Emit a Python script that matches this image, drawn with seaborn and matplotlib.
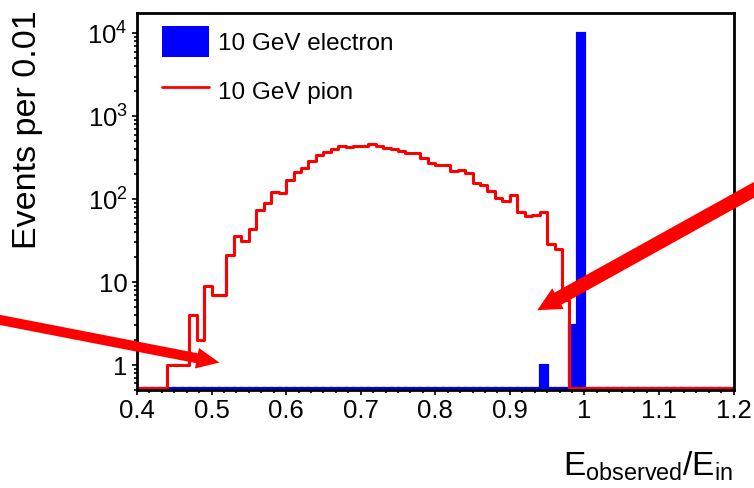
import numpy as np
import pandas as pd
import matplotlib
matplotlib.use("Agg")
import matplotlib.pyplot as plt
import seaborn as sns
from matplotlib.lines import Line2D
from matplotlib.patches import Patch
from matplotlib.ticker import (FixedLocator, FuncFormatter, LogLocator,
                               NullFormatter, AutoMinorLocator)

# ---- histogram data: E_observed / E_in in bins of 0.01 from 0.40 to 1.20 ----
X_RANGE = (0.40, 1.20)
N_BINS = 80

pion_counts = [0, 0, 0, 0, 1, 1, 1, 4, 2, 9,
               7, 7, 21, 36, 31, 44, 74, 90, 122, 118,
               169, 210, 234, 289, 337, 372, 400, 438, 423, 436,
               440, 460, 436, 418, 400, 381, 358, 358, 310, 276,
               256, 256, 219, 224, 209, 155, 147, 126, 102, 95,
               112, 70, 62, 64, 69, 29, 25, 6] + [0] * 22

electron_bins = [0.94, 0.98, 0.99]
electron_counts = [1, 3, 10000]

series_labels = ["10 GeV electron", "10 GeV pion"]
ytick_values = [1, 10, 100, 1000, 10000]
xtick_values = [0.4, 0.5, 0.6, 0.7, 0.8, 0.9, 1.0, 1.1, 1.2]
xtick_labels = ["0.4", "0.5", "0.6", "0.7", "0.8", "0.9", "1", "1.1", "1.2"]

# empty bins are drawn along the bottom of the frame, as in ROOT
Y_MIN, Y_MAX = 0.5, 1.75e4
FLOOR = 0.53

bin_edges = np.linspace(X_RANGE[0], X_RANGE[1], N_BINS + 1)
centers = (bin_edges[:-1] + bin_edges[1:]) / 2
pion = np.asarray(pion_counts, dtype=float)
electron = np.zeros(N_BINS)
for b, c in zip(electron_bins, electron_counts):
    electron[int(round((b - X_RANGE[0]) / 0.01))] = c

df = pd.DataFrame({
    "ratio": centers,
    "electron": np.where(electron > 0, electron, FLOOR),
    "pion": np.where(pion > 0, pion, FLOOR),
})

sns.set_style("white")
plt.rcParams["font.family"] = ["Liberation Sans", "DejaVu Sans"]
plt.rcParams["mathtext.fontset"] = "custom"
plt.rcParams["mathtext.rm"] = "Liberation Sans"
plt.rcParams["mathtext.it"] = "Liberation Sans:italic"
plt.rcParams["text.color"] = "black"
plt.rcParams["axes.labelcolor"] = "black"
plt.rcParams["xtick.color"] = "black"
plt.rcParams["ytick.color"] = "black"

fig = plt.figure(figsize=(7.54, 4.88), dpi=100)
ax = fig.add_axes([137 / 754, 1 - 390 / 488, 596.5 / 754, 377 / 488])
ax.set_yscale("log")

BLUE = "#0000ff"
RED = "#ff0000"

sns.histplot(data=df, x="ratio", weights="electron",
             bins=N_BINS, binrange=X_RANGE, element="bars", fill=True,
             color=BLUE, edgecolor=BLUE, linewidth=2.3, alpha=1.0, ax=ax)
sns.histplot(data=df, x="ratio", weights="pion",
             bins=N_BINS, binrange=X_RANGE, element="step", fill=False,
             color=RED, linewidth=2.2, ax=ax)

ax.set_xlim(*X_RANGE)
ax.set_ylim(Y_MIN, Y_MAX)

# ticks
ax.xaxis.set_major_locator(FixedLocator(xtick_values))
ax.set_xticklabels(xtick_labels)
ax.xaxis.set_minor_locator(AutoMinorLocator(6))


def ylab(v, _pos):
    if v == 1:
        return "1"
    if v == 10:
        return "10"
    return r"$\mathregular{10^{%d}}$" % int(round(np.log10(v)))


ax.yaxis.set_major_locator(FixedLocator(ytick_values))
ax.yaxis.set_major_formatter(FuncFormatter(ylab))
ax.yaxis.set_minor_locator(LogLocator(base=10, subs=np.arange(2, 10)))
ax.yaxis.set_minor_formatter(NullFormatter())

ax.tick_params(which="both", direction="out", top=False, right=False,
               bottom=True, left=True, width=1.2, color="black",
               labelcolor="black", labelsize=18.5, pad=3)
ax.tick_params(which="major", length=3.6)
ax.tick_params(which="minor", length=2.2)

for s in ax.spines.values():
    s.set_linewidth(2.0)
    s.set_color("black")
    s.set_visible(True)

ax.set_ylabel("Events per 0.01", fontsize=24.5, loc="top", color="black")
ax.yaxis.set_label_coords(-0.157, 1.008)
ax.set_xlabel(r"$\mathregular{E_{observed}/E_{in}}$", fontsize=24,
              loc="right", color="black")
ax.xaxis.set_label_coords(1.0, -0.158)

handles = [Patch(facecolor=BLUE, edgecolor="none"),
           Line2D([], [], color=RED, linewidth=2.0)]
leg = ax.legend(handles, series_labels, loc="upper left",
                bbox_to_anchor=(0.0414, 0.9655), frameon=False, fontsize=17.5,
                borderaxespad=0, borderpad=0, handlelength=1.96,
                handleheight=1.6, handletextpad=0.37, labelspacing=0.73)
for t in leg.get_texts():
    t.set_color("black")

# pointer arrows
ax.annotate("", xy=(0.5106, 1.07), xycoords="data",
            xytext=(-10 / 754, 1 - 318 / 488), textcoords="figure fraction",
            annotation_clip=False,
            arrowprops=dict(arrowstyle="simple,head_length=16.5,head_width=15,tail_width=7.2",
                            mutation_scale=1, color=RED, lw=0,
                            shrinkA=0, shrinkB=0))
ax.annotate("", xy=(0.9369, 4.59), xycoords="data",
            xytext=(770 / 754, 1 - 181 / 488), textcoords="figure fraction",
            annotation_clip=False,
            arrowprops=dict(arrowstyle="simple,head_length=17,head_width=17,tail_width=10",
                            mutation_scale=1, color=RED, lw=0,
                            shrinkA=0, shrinkB=0))

fig.savefig("out.png", dpi=100)
